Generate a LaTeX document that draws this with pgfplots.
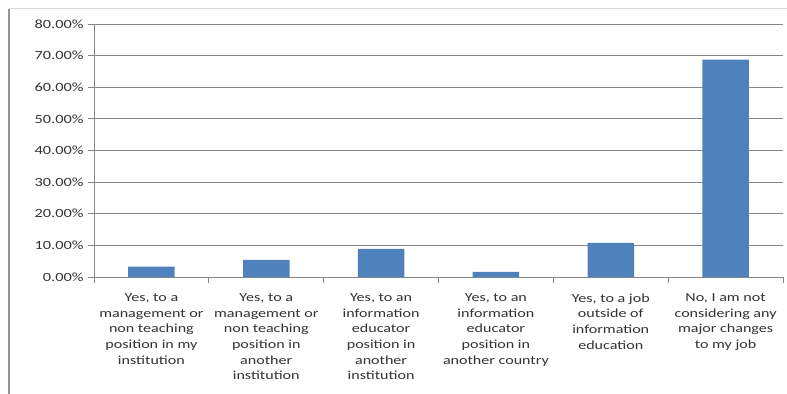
\documentclass[border=0pt]{standalone}
\usepackage{pgfplots}
\pgfplotsset{compat=1.18}
\usepackage{fontspec}
\setmainfont{Carlito}[FakeStretch=1.3]
\definecolor{barblue}{HTML}{4F81BD}
\definecolor{gridgray}{HTML}{868686}
\begin{document}
\begin{tikzpicture}
\path[use as bounding box] (-94bp,-117bp) rectangle (693bp,277bp);
\draw[line width=1.5bp, color=gray!85] (-85bp,-117bp) -- (-85bp,268bp);
\draw[line width=1bp, color=gray!30] (-85bp,268bp) -- (693bp,268bp);
\begin{axis}[
  name=ax, at={(0,0)}, anchor=south west,
  scale only axis, width=689bp, height=253bp,
  xmin=-0.5, xmax=5.5, ymin=0, ymax=80,
  axis lines*=left,
  axis line style={gridgray, line width=0.8bp},
  ymajorgrids, grid style={gridgray, line width=0.8bp},
  xtick={0,1,2,3,4,5},
  major x tick style={draw=none},
  minor xtick={-0.5,0.5,1.5,2.5,3.5,4.5,5.5},
  minor x tick style={gridgray, line width=0.8bp},
  minor tick length=6bp,
  ytick={0,10,20,30,40,50,60,70,80},
  yticklabels={0.00\%,10.00\%,20.00\%,30.00\%,40.00\%,50.00\%,60.00\%,70.00\%,80.00\%},
  major y tick style={gridgray, line width=0.8bp},
  major tick length=6bp,
  tick align=outside,
  xticklabels={
    {Yes, to a\\management or\\non teaching\\position in my\\institution},
    {Yes, to a\\management or\\non teaching\\position in\\another\\institution},
    {Yes, to an\\information\\educator\\position in\\another\\institution},
    {Yes, to an\\information\\educator\\position in\\another country},
    {Yes, to a job\\outside of\\information\\education},
    {No, I am not\\considering any\\major changes\\to my job}},
  xticklabel style={align=center, font=\fontsize{12.4}{15.7}\selectfont, text=black!80, yshift=-7bp},
  yticklabel style={font=\fontsize{12.6}{15}\selectfont, text=black!80, xshift=-1bp},
  /pgf/number format/assume math mode=true,
  clip=false,
]
\addplot[ybar, bar width=46.5bp, fill=barblue, draw=none] coordinates {
  (0,3.3) (1,5.4) (2,8.9) (3,1.6) (4,10.8) (5,68.7)
};
\end{axis}
\end{tikzpicture}
\end{document}
